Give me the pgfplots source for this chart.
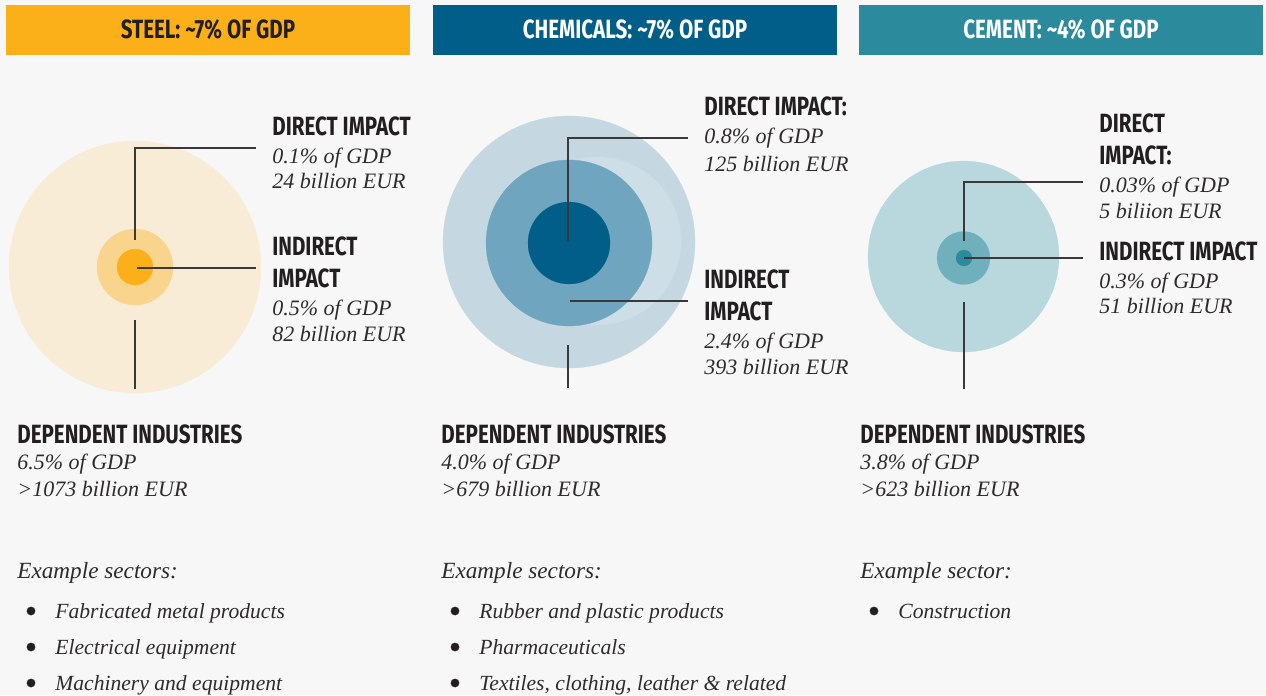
\documentclass[border=0pt]{standalone}
\usepackage{fontspec}
\setmainfont{Liberation Serif}
\newfontfamily\cond[FakeStretch=0.78]{Fira Sans}
\usepackage{pgfplots}
\pgfplotsset{compat=1.18}
\definecolor{bg}{HTML}{F7F7F7}
\definecolor{dark}{HTML}{231F20}
\definecolor{txt}{HTML}{2E2B2C}
\definecolor{ln}{HTML}{3A3838}
\definecolor{steel}{HTML}{FBB01A}
\definecolor{steelmid}{HTML}{F9D48C}
\definecolor{steelout}{HTML}{F8ECD6}
\definecolor{chem}{HTML}{005E88}
\definecolor{chemmid}{HTML}{70A5BF}
\definecolor{chemlight}{HTML}{CDDEE7}
\definecolor{chemout}{HTML}{C5D8E2}
\definecolor{cem}{HTML}{2B8A9B}
\definecolor{cemmid}{HTML}{6FB0BC}
\definecolor{cemout}{HTML}{B9D8DE}
\tikzset{
 hd/.style={anchor=base west, inner sep=0pt, text=dark, font=\cond\bfseries\fontsize{13.2}{15}\selectfont},
 hh/.style={anchor=base, inner sep=0pt, font=\cond\bfseries\fontsize{13.2}{15}\selectfont},
 it/.style={anchor=base west, inner sep=0pt, text=txt, font=\itshape\fontsize{11}{13}\selectfont},
 ex/.style={anchor=base west, inner sep=0pt, text=txt, font=\itshape\fontsize{11.6}{14}\selectfont},
 li/.style={anchor=base west, inner sep=0pt, text=txt, font=\itshape\fontsize{10.8}{14}\selectfont},
}
\pgfplotsset{
 disc/.style={only marks, mark=*, color=#1, mark options={line width=0.1pt}},
 lead/.style={draw=ln, line width=0.75pt, mark=none},
}
\begin{document}
\begin{tikzpicture}
\begin{axis}[width=633pt, height=347.5pt, scale only axis, clip marker paths=true,
 xmin=0, xmax=1266, ymin=0, ymax=695, y dir=reverse, hide axis, clip=false]
% background
\addplot[fill=bg, draw=none] coordinates {(0,0) (1266,0) (1266,695) (0,695)} --cycle;
% header bars
\addplot[fill=steel, draw=none] coordinates {(6,5) (410,5) (410,55) (6,55)} --cycle;
\addplot[fill=chem, draw=none] coordinates {(433,5) (837,5) (837,55) (433,55)} --cycle;
\addplot[fill=cem, draw=none] coordinates {(859,5) (1263,5) (1263,55) (859,55)} --cycle;
\node[hh, text=dark] at (axis cs:208,39) {STEEL: \textasciitilde7\% OF GDP};
\node[hh, text=white] at (axis cs:635,39) {CHEMICALS: \textasciitilde7\% OF GDP};
\node[hh, text=white] at (axis cs:1061,39) {CEMENT: \textasciitilde4\% OF GDP};
% steel circles
\addplot[disc=steelout, mark size=63pt] coordinates {(135,267)};
\addplot[disc=steelmid, mark size=19pt] coordinates {(135,267)};
\addplot[disc=steel, mark size=9pt] coordinates {(135,267)};
% chemicals circles
\addplot[disc=chemout, mark size=63pt] coordinates {(569,242)};
\addplot[disc=chemlight, mark size=42pt] coordinates {(597,241)};
\addplot[disc=chemmid, mark size=41.5pt] coordinates {(569,243)};
\addplot[disc=chem, mark size=20.5pt] coordinates {(569,243)};
% cement circles
\addplot[disc=cemout, mark size=47.75pt] coordinates {(963.5,256.5)};
\addplot[disc=cemmid, mark size=13.25pt] coordinates {(963.5,258)};
\addplot[disc=cem, mark size=4pt] coordinates {(964,258)};
% leader lines steel
\addplot[lead] coordinates {(256,148) (135,148) (135,240)};
\addplot[lead] coordinates {(137,268) (256,268)};
\addplot[lead] coordinates {(135,320) (135,389)};
% leader lines chemicals
\addplot[lead] coordinates {(688,138) (568,138) (568,241)};
\addplot[lead] coordinates {(570,301) (688,301)};
\addplot[lead] coordinates {(568,345) (568,388)};
% leader lines cement
\addplot[lead] coordinates {(1083,182) (964,182) (964,241)};
\addplot[lead] coordinates {(964,258) (1083,258)};
\addplot[lead] coordinates {(964,302) (964,389)};
% steel labels
\node[hd] at (axis cs:272,136) {DIRECT IMPACT};
\node[it] at (axis cs:272,163) {0.1\% of GDP};
\node[it] at (axis cs:272,189) {24 billion EUR};
\node[hd] at (axis cs:272,255) {INDIRECT};
\node[hd] at (axis cs:272,287) {IMPACT};
\node[it] at (axis cs:272,315) {0.5\% of GDP};
\node[it] at (axis cs:272,341) {82 billion EUR};
% chemicals labels
\node[hd] at (axis cs:704,116) {DIRECT IMPACT:};
\node[it] at (axis cs:704,144) {0.8\% of GDP};
\node[it] at (axis cs:704,171) {125 billion EUR};
\node[hd] at (axis cs:704,288) {INDIRECT};
\node[hd] at (axis cs:704,320) {IMPACT};
\node[it] at (axis cs:704,348) {2.4\% of GDP};
\node[it] at (axis cs:704,374) {393 billion EUR};
% cement labels
\node[hd] at (axis cs:1099,133) {DIRECT};
\node[hd] at (axis cs:1099,165) {IMPACT:};
\node[it] at (axis cs:1099,192) {0.03\% of GDP};
\node[it] at (axis cs:1099,218) {5 biliion EUR};
\node[hd] at (axis cs:1099,260) {INDIRECT IMPACT};
\node[it] at (axis cs:1099,288) {0.3\% of GDP};
\node[it] at (axis cs:1099,313) {51 billion EUR};
% dependent industries
\node[hd] at (axis cs:17,443) {DEPENDENT INDUSTRIES};
\node[it] at (axis cs:17,469) {6.5\% of GDP};
\node[it] at (axis cs:17,496) {>1073 billion EUR};
\node[hd] at (axis cs:441,443) {DEPENDENT INDUSTRIES};
\node[it] at (axis cs:441,469) {4.0\% of GDP};
\node[it] at (axis cs:441,496) {>679 billion EUR};
\node[hd] at (axis cs:860,443) {DEPENDENT INDUSTRIES};
\node[it] at (axis cs:860,469) {3.8\% of GDP};
\node[it] at (axis cs:860,496) {>623 billion EUR};
% bullets
\addplot[disc=dark, mark size=2.1pt] coordinates {(31,611) (31,647) (31,683) (455,611) (455,647) (455,683) (874,611)};
% example sectors
\node[ex] at (axis cs:17,578) {Example sectors:};
\node[li] at (axis cs:55,618) {Fabricated metal products};
\node[li] at (axis cs:55,654) {Electrical equipment};
\node[li] at (axis cs:55,690) {Machinery and equipment};
\node[ex] at (axis cs:441,578) {Example sectors:};
\node[li] at (axis cs:479,618) {Rubber and plastic products};
\node[li] at (axis cs:479,654) {Pharmaceuticals};
\node[li] at (axis cs:479,690) {Textiles, clothing, leather \& related};
\node[ex] at (axis cs:860,578) {Example sector:};
\node[li] at (axis cs:898,618) {Construction};
\end{axis}
\end{tikzpicture}
\end{document}
